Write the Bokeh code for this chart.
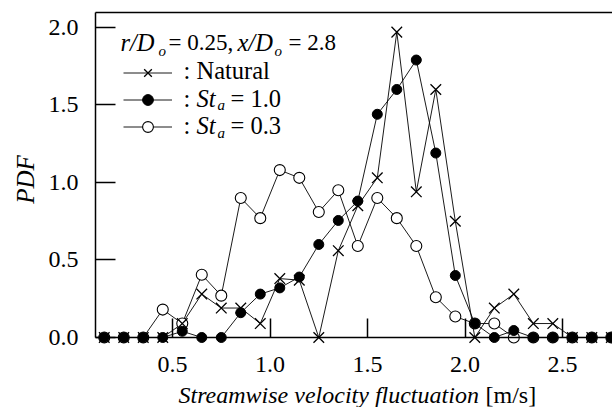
import math
from bokeh.plotting import figure
from bokeh.models import (Range1d, LinearAxis, FixedTicker, PrintfTickFormatter,
                          Label, Legend, LegendItem, ColumnDataSource)
from bokeh.core.properties import value
from bokeh.embed import file_html
from bokeh.resources import INLINE

# ---------------- data ----------------
velocity = [0.15, 0.25, 0.35, 0.45, 0.55, 0.65, 0.75, 0.85, 0.95, 1.05, 1.15, 1.25, 1.35,
            1.45, 1.55, 1.65, 1.75, 1.85, 1.95, 2.05, 2.15, 2.25, 2.35, 2.45, 2.55, 2.65, 2.75]
pdf_natural = [0, 0, 0, 0, 0.09, 0.28, 0.19, 0.19, 0.09, 0.38, 0.37, 0, 0.56,
               0.85, 1.03, 1.97, 0.94, 1.60, 0.75, 0, 0.19, 0.28, 0.09, 0.09, 0, 0, 0]
pdf_st10 = [0, 0, 0, 0, 0.04, 0, 0, 0.16, 0.28, 0.32, 0.39, 0.60, 0.755,
            0.88, 1.44, 1.60, 1.79, 1.19, 0.40, 0.09, 0, 0.045, 0, 0, 0, 0, 0]
pdf_st03 = [0, 0, 0, 0.18, 0.09, 0.405, 0.27, 0.90, 0.77, 1.08, 1.03, 0.81, 0.95,
            0.59, 0.90, 0.77, 0.59, 0.26, 0.135, 0.09, 0.09, 0, 0, 0, 0, 0, 0]
x_ticks = [0.5, 1.0, 1.5, 2.0, 2.5]
y_ticks = [0.0, 0.5, 1.0, 1.5, 2.0]

FONT = "Liberation Serif"
W, H = 612, 407
# plotting box (data units) of the original axes
X0, X1 = 0.105, 2.756
Y0, Y1 = 0.0, 2.097

src = ColumnDataSource(dict(v=velocity, nat=pdf_natural, s10=pdf_st10, s03=pdf_st03))

# frame covers the whole canvas; axes are drawn at fixed data locations
p = figure(width=W, height=H, output_backend="svg", toolbar_location=None,
           x_range=Range1d(-0.382, 2.756), y_range=Range1d(-0.4516, 2.174),
           x_axis_location=None, y_axis_location=None, min_border=0)
p.outline_line_color = None
p.grid.visible = False
p.background_fill_color = "white"
p.border_fill_color = "white"


def style_axis(ax):
    ax.axis_line_width = 1.5
    ax.axis_line_color = "black"
    ax.major_tick_line_width = 1.5
    ax.major_tick_line_color = "black"
    ax.minor_tick_line_color = None
    ax.major_tick_out = 0
    ax.major_label_text_font = FONT
    ax.major_label_text_font_size = "24px"
    ax.major_label_text_color = "black"


xa = LinearAxis(fixed_location=0, bounds=(X0, X1),
                ticker=FixedTicker(ticks=x_ticks, minor_ticks=[]),
                formatter=PrintfTickFormatter(format="%.1f"))
style_axis(xa)
xa.major_tick_in = 19
xa.major_label_standoff = 20
p.add_layout(xa, "below")

ya = LinearAxis(fixed_location=X0, bounds=(Y0, Y1),
                ticker=FixedTicker(ticks=y_ticks, minor_ticks=[]),
                formatter=PrintfTickFormatter(format="%.1f"))
style_axis(ya)
ya.major_tick_in = 20
ya.major_label_standoff = 17
p.add_layout(ya, "left")

top = LinearAxis(fixed_location=Y1, bounds=(X0, X1),
                 ticker=FixedTicker(ticks=[], minor_ticks=[]))
style_axis(top)
top.major_tick_line_color = None
p.add_layout(top, "above")

# ---------------- series ----------------
l03 = p.line("v", "s03", source=src, line_color="black", line_width=0.9)
l10 = p.line("v", "s10", source=src, line_color="black", line_width=0.9)
lnat = p.line("v", "nat", source=src, line_color="black", line_width=0.9)
m03 = p.scatter("v", "s03", source=src, marker="circle", size=11, fill_color="white",
                line_color="black", line_width=1.1)
m10 = p.scatter("v", "s10", source=src, marker="circle", size=10, fill_color="black",
                line_color="black", line_width=1)
mnat = p.scatter("v", "nat", source=src, marker="x", size=15, line_color="black",
                 line_width=1.3)

legend = Legend(items=[LegendItem(label=value(" "), renderers=[lnat, mnat]),
                       LegendItem(label=value(" "), renderers=[l10, m10]),
                       LegendItem(label=value(" "), renderers=[l03, m03])],
                location=(123, H - 140), glyph_width=49, glyph_height=27, label_height=27,
                spacing=0, padding=0, margin=0, border_line_color=None,
                background_fill_alpha=0, label_text_font_size="1px", label_width=1,
                label_standoff=0)
p.add_layout(legend)

DY = 6  # baseline correction


def lab(text, X, Y, size=24, italic=False, **kw):
    base = kw.get("baseline", "alphabetic")
    yy = Y - DY if base == "alphabetic" else Y
    p.add_layout(Label(x=X, y=H - yy, x_units="screen", y_units="screen", text=text,
                       text_font=FONT, text_font_size=f"{size}px",
                       text_font_style="italic" if italic else "normal",
                       text_color="black", text_align=kw.get("align", "left"),
                       text_baseline=base, angle=kw.get("angle", 0)))


SUB = 15
RS = 24.5
# legend title: r/D_o = 0.25, x/D_o = 2.8
lab("r/D", 120, 48, size=24.5, italic=True)
lab("o", 158, 56, size=SUB, italic=True)
lab("= 0.25,", 168, 48, size=23)
lab("x/D", 237, 48, size=24.5, italic=True)
lab("o", 274, 56, size=SUB, italic=True)
lab("= 2.8", 288, 48, size=23)

# legend rows
lab(": Natural", 183, 76, size=RS)
for base, txt in ((103.5, "= 1.0"), (131, "= 0.3")):
    lab(":", 183, base, size=RS)
    lab("St", 196, base, size=RS, italic=True)
    lab("a", 217, base + 7, size=SUB, italic=True)
    lab(txt, 230, base, size=RS)

# axis titles
lab("Streamwise velocity fluctuation", 178, 400, italic=True)
lab("[m/s]", 485, 400)
lab("PDF", 25, 179, size=25, italic=True, align="center", baseline="middle",
    angle=math.pi / 2)

open("out.html", "w").write(file_html(p, INLINE))
